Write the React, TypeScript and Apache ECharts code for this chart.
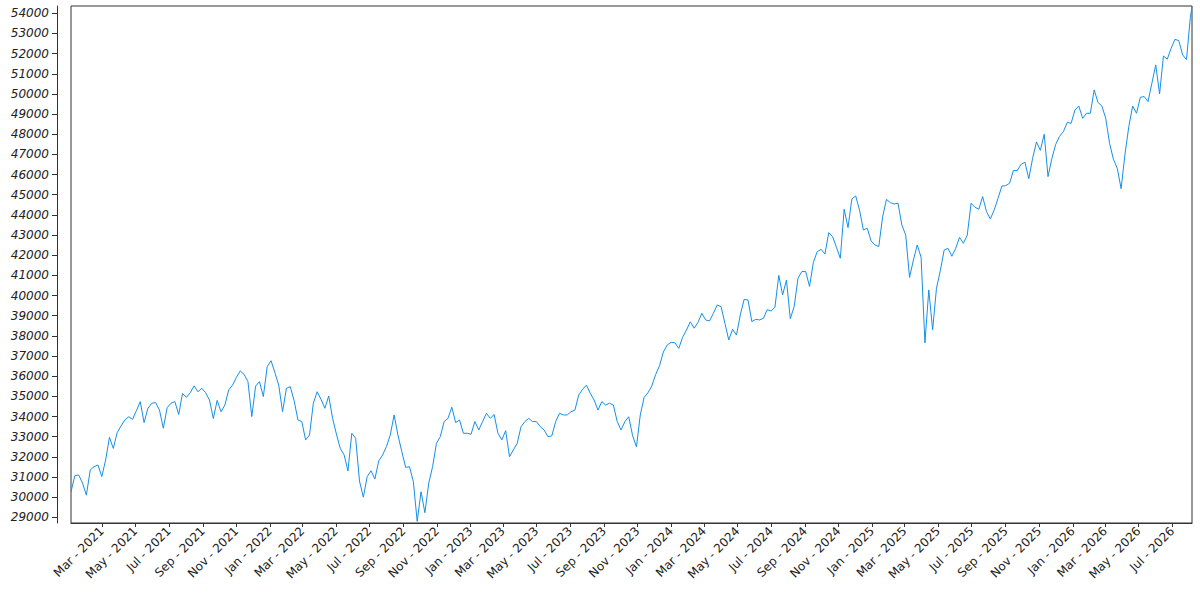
import React, { useEffect, useRef } from "react";
import * as echarts from "echarts";

// Weekly closing values, starting Mon 4 Jan 2021
const START_YEAR = 2021;
const START_MONTH = 0;
const START_DAY = 4;
const STEP_DAYS = 7;

const values2021 = [
  30270, 31070, 31100, 30700, 30100, 31350, 31510, 31600, 31020, 31840,
  32970, 32420, 33200, 33530, 33830, 33990, 33860, 34290, 34740, 33700,
  34410, 34660, 34690, 34320, 33420, 34440, 34660, 34740, 34100, 35150,
  34950, 35180, 35520, 35230, 35400, 35180, 34820, 33900, 34800, 34240,
  34570, 35320, 35560, 35940, 36260, 36090, 35730, 34000, 35510, 35730,
  34990, 36470,
];
const values2022 = [
  36770, 36180, 35560, 34240, 35400, 35480, 34790, 33830, 33750, 32840,
  33080, 34660, 35230, 34850, 34410, 35020, 33910, 33130, 32420, 32100,
  31300, 33170, 32920, 30800, 30000, 31020, 31310, 30900, 31800, 32090,
  32510, 33080, 34080, 33080, 32260, 31480, 31510, 30770, 28800, 30270,
  29230, 30690, 31510, 32670, 33000, 33750, 33910, 34460, 33700, 33830,
  33170, 33170,
];
const values2023 = [
  33120, 33750, 33330, 33750, 34160, 33910, 34100, 33170, 32840, 33300,
  32010, 32340, 32670, 33500, 33750, 33910, 33750, 33750, 33500, 33330,
  33000, 33040, 33750, 34160, 34080, 34080, 34240, 34320, 35070, 35350,
  35560, 35150, 34820, 34320, 34740, 34570, 34660, 34570, 33750, 33330,
  33750, 33990, 33050, 32500, 34080, 34950, 35180, 35520, 36090, 36520,
  37200, 37550,
];
const values2024 = [
  37680, 37660, 37380, 37930, 38290, 38700, 38380, 38670, 39120, 38790,
  38740, 39120, 39530, 39450, 38620, 37800, 38330, 38040, 39040, 39810,
  39780, 38710, 38820, 38790, 38870, 39300, 39230, 39420, 41000, 40030,
  40770, 38850, 39450, 40860, 41190, 41190, 40450, 41650, 42180, 42290,
  42060, 43120, 42920, 42390, 41850, 44280, 43370, 44790, 44940, 44240,
  43250, 43340, 42710,
];
const values2025 = [
  42510, 42430, 43910, 44770, 44610, 44540, 44580, 43500, 43000, 40900,
  41760, 42510, 41900, 37650, 40280, 38300, 40360, 41240, 42260, 42340,
  41950, 42340, 42890, 42590, 43000, 44580, 44380, 44280, 44910, 44160,
  43800, 44240, 44820, 45430, 45450, 45570, 46200, 46200, 46510, 46610,
  45800, 46810, 47620, 47200, 48000, 45900, 46800, 47500, 47900, 48130,
  48590, 48540,
];
const values2026 = [
  49200, 49400, 48790, 49040, 49040, 50200, 49570, 49400, 48790, 47550,
  46760, 46310, 45300, 47000, 48380, 49400, 49040, 49830, 49870, 49620,
  50530, 51440, 50000, 51880, 51720, 52260, 52710, 52640, 51930, 51700,
  53800,
];
const LAST_DATE = [2026, 7, 6];
const LAST_VALUE = 54330;

const MONTH_NAMES = ["Jan", "Feb", "Mar", "Apr", "May", "Jun", "Jul", "Aug", "Sep", "Oct", "Nov", "Dec"];
const X_TICK_MONTHS = [
  "2021-03", "2021-05", "2021-07", "2021-09", "2021-11",
  "2022-01", "2022-03", "2022-05", "2022-07", "2022-09", "2022-11",
  "2023-01", "2023-03", "2023-05", "2023-07", "2023-09", "2023-11",
  "2024-01", "2024-03", "2024-05", "2024-07", "2024-09", "2024-11",
  "2025-01", "2025-03", "2025-05", "2025-07", "2025-09", "2025-11",
  "2026-01", "2026-03", "2026-05", "2026-07",
];
const Y_TICKS = [
  29000, 30000, 31000, 32000, 33000, 34000, 35000, 36000, 37000, 38000, 39000,
  40000, 41000, 42000, 43000, 44000, 45000, 46000, 47000, 48000, 49000, 50000,
  51000, 52000, 53000, 54000,
];
const Y_MIN = 28720;
const Y_MAX = 54360;

export default function App() {
  const ref = useRef<HTMLDivElement>(null);

  useEffect(() => {
    document.body.style.margin = "0";
    if (!ref.current) return;
    const chart = echarts.init(ref.current, null, { renderer: "svg" });

    const allValues = [
      ...values2021, ...values2022, ...values2023,
      ...values2024, ...values2025, ...values2026,
    ];
    const data: [number, number][] = allValues.map((v, i) => [
      new Date(START_YEAR, START_MONTH, START_DAY + i * STEP_DAYS).getTime(),
      v,
    ]);
    const lastTs = new Date(LAST_DATE[0], LAST_DATE[1], LAST_DATE[2]).getTime();
    data.push([lastTs, LAST_VALUE]);

    const xTicks = X_TICK_MONTHS.map((s) => {
      const [y, m] = s.split("-").map(Number);
      return new Date(y, m - 1, 1).getTime();
    });

    const font = "'DejaVu Sans', sans-serif";

    chart.setOption({
      animation: false,
      grid: {
        left: 71,
        right: 8,
        top: 6,
        bottom: 77,
        show: true,
        borderColor: "#333",
        borderWidth: 1,
        containLabel: false,
      },
      xAxis: {
        type: "value",
        scale: true,
        min: data[0][0],
        max: lastTs,
        axisLine: { show: true, onZero: false, lineStyle: { color: "#333", width: 1 } },
        axisTick: { show: true, length: 4, customValues: xTicks, lineStyle: { color: "#333" } },
        splitLine: { show: false },
        axisLabel: {
          customValues: xTicks,
          rotate: 45,
          margin: 6,
          fontSize: 12,
          fontFamily: font,
          color: "#222",
          formatter: (val: number) => {
            const d = new Date(val);
            return `${MONTH_NAMES[d.getMonth()]} - ${d.getFullYear()}`;
          },
        },
      },
      yAxis: {
        type: "value",
        min: Y_MIN,
        max: Y_MAX,
        offset: 14,
        axisLine: { show: true, lineStyle: { color: "#333", width: 1 } },
        axisTick: { show: true, length: 5, customValues: Y_TICKS, lineStyle: { color: "#333" } },
        splitLine: { show: false },
        axisLabel: {
          customValues: Y_TICKS,
          margin: 8,
          fontSize: 12,
          fontStyle: "italic",
          fontFamily: font,
          color: "#222",
          formatter: (val: number) => String(Math.round(val)),
        },
      },
      series: [
        {
          type: "line",
          data,
          showSymbol: false,
          symbol: "none",
          lineStyle: { color: "#1590e8", width: 1 },
          itemStyle: { color: "#1590e8" },
        },
      ],
    });

    return () => chart.dispose();
  }, []);

  return <div ref={ref} style={{ width: 1200, height: 600 }} />;
}
